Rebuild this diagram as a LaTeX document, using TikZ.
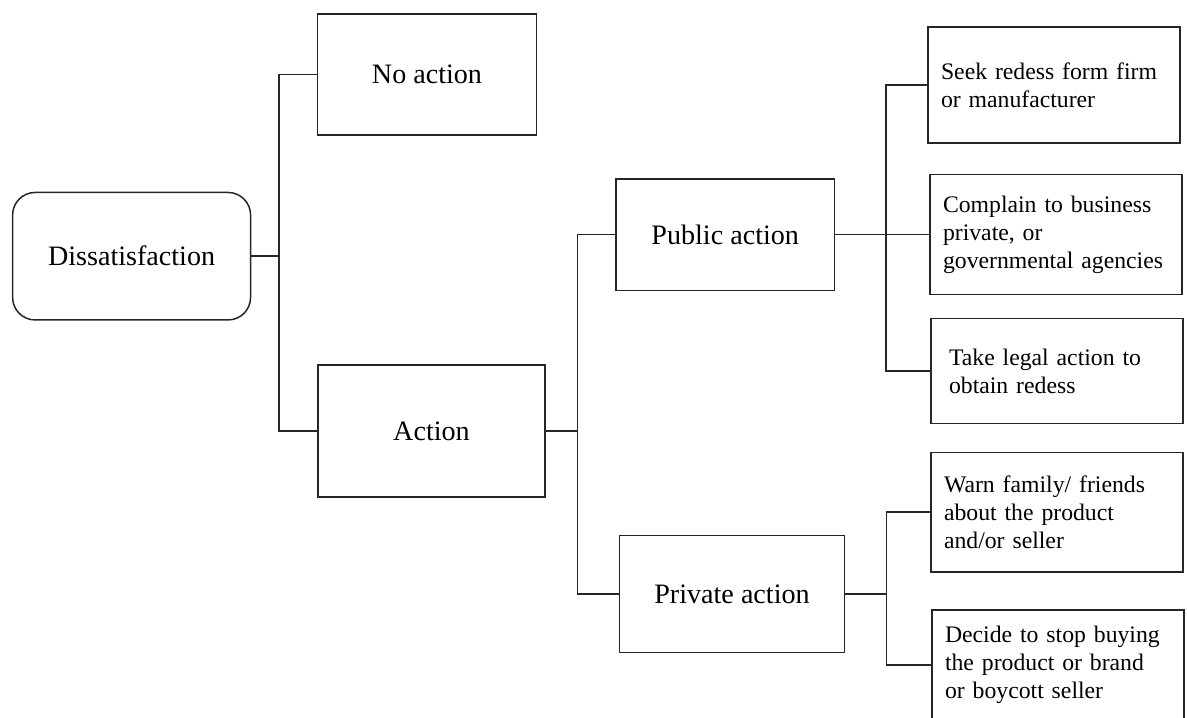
\documentclass[tikz,border=0pt]{standalone}
\usepackage{fontspec}
\setmainfont{Liberation Serif}
\usetikzlibrary{positioning}

\begin{document}
\begin{tikzpicture}[x=0.02cm,y=-0.02cm,
    box/.style={draw=black!85,line width=0.85pt,align=center,font=\fontsize{16}{19}\selectfont},
    leaf/.style={draw=black!85,line width=0.85pt,align=left,text width=4.52cm,inner xsep=0.26cm,
                 font=\fontsize{13.5}{16}\selectfont},
    link/.style={draw=black!85,line width=0.85pt}]
    \useasboundingbox (0,0) rectangle (1187,717);
    \clip (0,0) rectangle (1187,717);

    % first level
    \node[box,rounded corners=0.45cm,minimum width=4.76cm,minimum height=2.55cm] (dis) at (131.6,256.2) {Dissatisfaction};
    \node[box,minimum width=4.38cm,minimum height=2.42cm] (noact) at (427,74.5)  {No action};
    \node[box,minimum width=4.55cm,minimum height=2.65cm] (act)   at (431.5,431) {Action};

    % second level
    \node[box,minimum width=4.37cm,minimum height=2.23cm] (pub)  at (725.2,234.7) {Public action};
    \node[box,minimum width=4.51cm,minimum height=2.34cm] (priv) at (732,594.2)   {Private action};

    % leaves
    \node[leaf,minimum height=2.33cm] (seek)   at (1054,85)    {Seek redess form firm\\or manufacturer};
    \node[leaf,minimum height=2.40cm] (compl)  at (1056,234.7) {Complain to business\\private, or\\governmental~agencies};
    \node[leaf,minimum height=2.11cm] (take)   at (1057,371)   {\hspace*{0.1cm}Take legal action to\\\hspace*{0.1cm}obtain redess};
    \node[leaf,minimum height=2.39cm] (warn)   at (1057,512.2) {Warn family/ friends\\about the product\\and/or seller};
    \node[leaf,minimum height=2.21cm] (decide) at (1058,665)   {Decide to stop buying\\the product or brand\\or boycott seller};

    % junctions
    \path (dis.east)  ++(27.5,0) coordinate (j1);
    \path (act.east)  ++(31.3,0) coordinate (j2);
    \path (pub.east)  ++(50.6,0) coordinate (j3);
    \path (priv.east) ++(41.2,0) coordinate (j4);

    \draw[link] (dis.east) -- (j1);
    \draw[link] (noact.west) -| (j1) |- (act.west);
    \draw[link] (act.east) -- (j2);
    \draw[link] (pub.west) -| (j2) |- (priv.west);
    \draw[link] (pub.east) -- (compl.west);
    \draw[link] (seek.west) -| (j3) |- (take.west);
    \draw[link] (priv.east) -- (j4);
    \draw[link] (warn.west) -| (j4) |- (decide.west);
\end{tikzpicture}
\end{document}
